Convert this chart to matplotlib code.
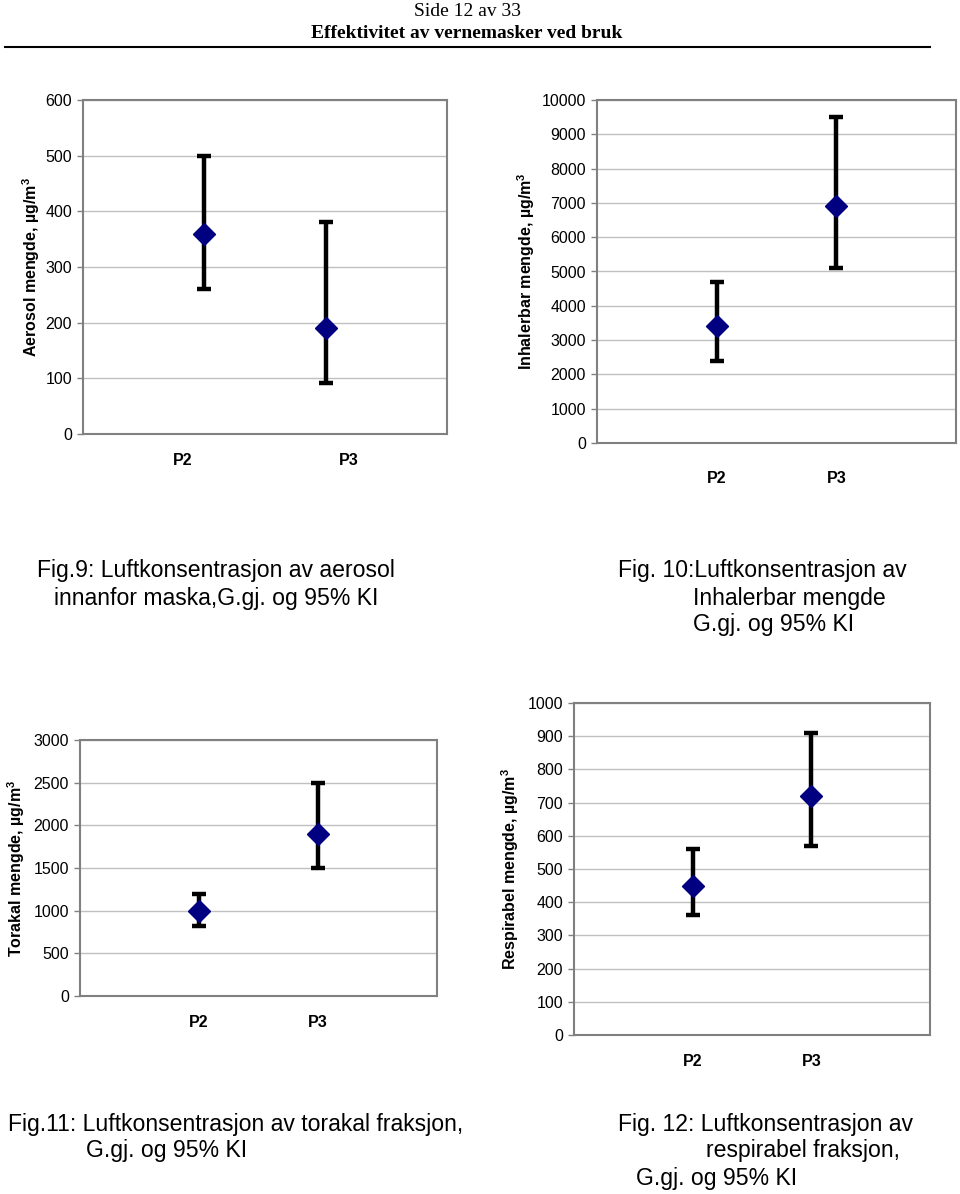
import matplotlib.pyplot as plt

plt.rcParams['font.family'] = ['Liberation Sans', 'DejaVu Sans']
plt.rcParams['mathtext.default'] = 'regular'

categories = ['P2', 'P3']

aerosol_mean = [360, 190]
aerosol_low = [260, 92]
aerosol_high = [500, 380]

inhal_mean = [3400, 6900]
inhal_low = [2400, 5100]
inhal_high = [4700, 9500]

torakal_mean = [1000, 1900]
torakal_low = [820, 1500]
torakal_high = [1200, 2500]

resp_mean = [450, 720]
resp_low = [360, 570]
resp_high = [560, 910]

W, H = 960, 1194


def px_axes(fig, left, top, right, bottom):
    """Axes placed with pixel edges (y measured from the top)."""
    return fig.add_axes([left / W, 1 - bottom / H,
                         (right - left) / W, (bottom - top) / H])


def draw_panel(ax, mean, low, high, ymax, ystep, ylabel,
               tick_pos=(1, 2), xpad=14, ylabel_x=-0.17):
    x = [1, 2]
    yerr = [[m - l for m, l in zip(mean, low)],
            [h - m for m, h in zip(mean, high)]]
    ax.errorbar(x, mean, yerr=yerr, fmt='D', color='#000080',
                markersize=11, ecolor='black', elinewidth=3.2,
                capsize=5, capthick=3.2, zorder=3)
    ax.set_xlim(0, 3)
    ax.set_ylim(0, ymax)
    ax.set_yticks(range(0, ymax + 1, ystep))
    ax.set_xticks(list(tick_pos))
    ax.set_xticklabels(categories, fontweight='bold', fontsize=11.5)
    ax.set_axisbelow(True)
    ax.yaxis.grid(True, color='#c0c0c0', linewidth=1)
    for sp in ax.spines.values():
        sp.set_color('#808080')
        sp.set_linewidth(1.5)
    ax.tick_params(axis='y', length=4, color='#808080', width=1,
                   labelsize=11.5, pad=4)
    ax.tick_params(axis='x', length=0, pad=xpad)
    ax.set_ylabel(ylabel, fontweight='bold', fontsize=11.5)
    ax.yaxis.set_label_coords(ylabel_x, 0.5)


fig = plt.figure(figsize=(W / 100, H / 100), dpi=100)

# header
fig.text(467 / W, 1 - 11 / H, 'Side 12 av 33', family='Liberation Serif',
         fontsize=14, ha='center', va='center')
fig.text(467 / W, 1 - 34 / H, 'Effektivitet av vernemasker ved bruk',
         family='Liberation Serif', fontweight='bold', fontsize=14,
         ha='center', va='center')
fig.add_artist(plt.Line2D([5 / W, 930 / W], [1 - 47 / H, 1 - 47 / H],
                          color='black', linewidth=1.5))

ax1 = px_axes(fig, 83, 100, 447, 434)
draw_panel(ax1, aerosol_mean, aerosol_low, aerosol_high, 600, 100,
           'Aerosol mengde, µg/m$^{3}$', tick_pos=(0.82, 2.19),
           xpad=14, ylabel_x=-0.113)

ax2 = px_axes(fig, 597, 100, 956, 443)
draw_panel(ax2, inhal_mean, inhal_low, inhal_high, 10000, 1000,
           'Inhalerbar mengde, µg/m$^{3}$', xpad=20, ylabel_x=-0.167)

ax3 = px_axes(fig, 80, 740, 437, 996)
draw_panel(ax3, torakal_mean, torakal_low, torakal_high, 3000, 500,
           'Torakal mengde, µg/m$^{3}$', xpad=14, ylabel_x=-0.149)

ax4 = px_axes(fig, 574, 703, 930, 1035)
draw_panel(ax4, resp_mean, resp_low, resp_high, 1000, 100,
           'Respirabel mengde, µg/m$^{3}$', xpad=14, ylabel_x=-0.149)

# captions
cap = dict(fontsize=16.6, va='center')
fig.text(216 / W, 1 - 571 / H, 'Fig.9: Luftkonsentrasjon av aerosol',
         ha='center', **cap)
fig.text(216 / W, 1 - 598 / H, 'innanfor maska,G.gj. og 95% KI',
         ha='center', **cap)

fig.text(618 / W, 1 - 571 / H, 'Fig. 10:Luftkonsentrasjon av', ha='left', **cap)
fig.text(693 / W, 1 - 598 / H, 'Inhalerbar mengde', ha='left', **cap)
fig.text(693 / W, 1 - 625 / H, 'G.gj. og 95% KI', ha='left', **cap)

fig.text(8 / W, 1 - 1124 / H, 'Fig.11: Luftkonsentrasjon av torakal fraksjon,',
         ha='left', **cap)
fig.text(86 / W, 1 - 1151 / H, 'G.gj. og 95% KI', ha='left', **cap)

fig.text(618 / W, 1 - 1124 / H, 'Fig. 12: Luftkonsentrasjon av', ha='left', **cap)
fig.text(706 / W, 1 - 1151 / H, 'respirabel fraksjon,', ha='left', **cap)
fig.text(636 / W, 1 - 1178 / H, 'G.gj. og 95% KI', ha='left', **cap)

fig.savefig('out.png', dpi=100)
